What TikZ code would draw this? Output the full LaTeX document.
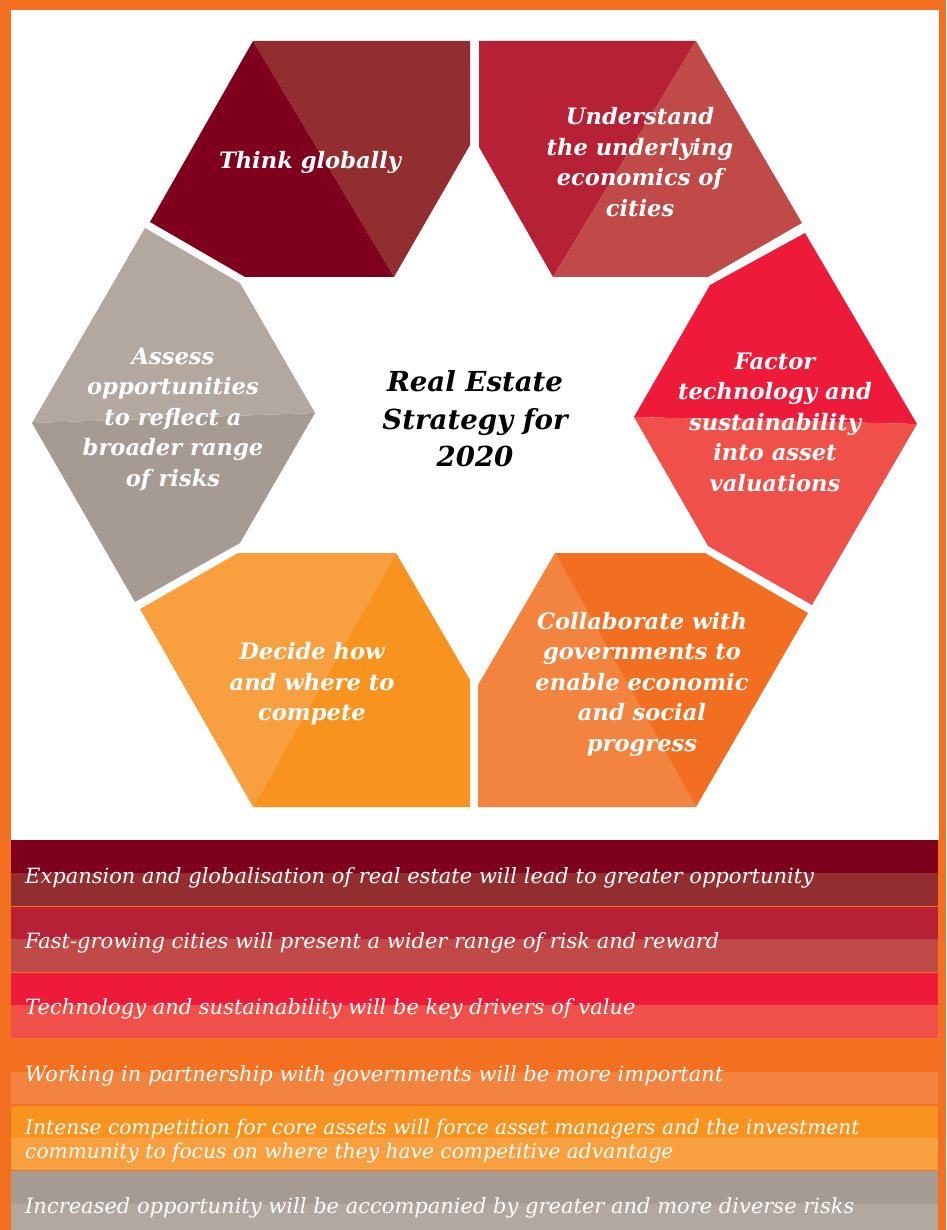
\documentclass[tikz,border=0pt]{standalone}
\usepackage{fontspec}
\setmainfont{DejaVu Serif}
\definecolor{border}{HTML}{F37021}
\definecolor{tgD}{HTML}{7F001C}
\definecolor{tgL}{HTML}{922D30}
\definecolor{unD}{HTML}{B72136}
\definecolor{unL}{HTML}{BF4A48}
\definecolor{faD}{HTML}{ED1B39}
\definecolor{faL}{HTML}{EF5049}
\definecolor{coD}{HTML}{F26F21}
\definecolor{coL}{HTML}{F3843F}
\definecolor{deD}{HTML}{F7931E}
\definecolor{deL}{HTML}{F8A03F}
\definecolor{asD}{HTML}{A69B92}
\definecolor{asL}{HTML}{B3A89F}
\tikzset{
  hexlabel/.style={text=white, align=center, inner sep=0pt,
    font=\bfseries\itshape\fontsize{22.6}{30.5}\selectfont},
  bandlabel/.style={text=white, anchor=west, align=left, inner sep=0pt,
    font=\itshape\fontsize{21}{24}\selectfont},
}
\begin{document}
\begin{tikzpicture}[x=1pt,y=-1pt]
\useasboundingbox (0,0) rectangle (946,1230);
% frame
\fill[border] (0,0) rectangle (946,1230);
\fill[white] (11,10) rectangle (939,840);
% Think globally
\fill[tgL] (253,41) -- (470,41) -- (470,145) -- (394,277) -- cycle;
\fill[tgD] (253,41) -- (394,277) -- (245,277) -- (150,222) -- cycle;
% Understand
\fill[unD] (479,41) -- (696,41) -- (553,277) -- (479,147) -- cycle;
\fill[unL] (696,41) -- (802,223) -- (708,277) -- (553,277) -- cycle;
% Factor
\fill[faD] (634,417) -- (710,285) -- (805,233) -- (917,424) -- cycle;
\fill[faL] (634,417) -- (917,424) -- (812,605) -- (708,546) -- cycle;
% Assess
\fill[asL] (32,423) -- (145,228) -- (240,283) -- (315,413) -- cycle;
\fill[asD] (32,423) -- (315,413) -- (240,543) -- (135,602) -- cycle;
% Decide
\fill[deL] (238,553) -- (396,553) -- (253,807) -- (140,609) -- cycle;
\fill[deD] (396,553) -- (470,680) -- (470,807) -- (253,807) -- cycle;
% Collaborate
\fill[coL] (555,553) -- (696,807) -- (478,807) -- (478,685) -- cycle;
\fill[coD] (555,553) -- (705,553) -- (808,613) -- (696,807) -- cycle;
% hexagon labels
\node[hexlabel] (think) at (310,162) {Think globally};
\node[hexlabel] (under) at (640,162) {Understand\\the underlying\\economics of\\cities};
\node[hexlabel] (factor) at (775,422) {Factor\\technology and\\sustainability\\into asset\\valuations};
\node[hexlabel] (assess) at (173,419) {Assess\\opportunities\\to reflect a\\broader range\\of risks};
\node[hexlabel] (decide) at (312,684) {Decide how\\and where to\\compete};
\node[hexlabel] (collab) at (642,684) {Collaborate with\\governments to\\enable economic\\and social\\progress};
\node[align=center, inner sep=0pt, font=\bfseries\itshape\fontsize{27.6}{37.5}\selectfont] (centre) at (475,419) {Real Estate\\Strategy for\\2020};
% bands
\fill[tgD] (11,840) rectangle (938,873);
\fill[tgL] (11,873) rectangle (938,906);
\fill[unD] (11,907) rectangle (938,939);
\fill[unL] (11,939) rectangle (938,972);
\fill[faD] (11,973) rectangle (938,1005);
\fill[faL] (11,1005) rectangle (938,1038);
\fill[coL] (11,1072) rectangle (938,1104);
\fill[deD] (11,1106) rectangle (938,1138);
\fill[deL] (11,1138) rectangle (938,1170);
\fill[asD] (11,1171) rectangle (938,1204);
\fill[asL] (11,1204) rectangle (938,1230);
\node[bandlabel] (b1) at (25,877.5) {Expansion and globalisation of real estate will lead to greater opportunity};
\node[bandlabel] (b2) at (25,942.5) {Fast-growing cities will present a wider range of risk and reward};
\node[bandlabel] (b3) at (25,1008.5) {Technology and sustainability will be key drivers of value};
\node[bandlabel] (b4) at (25,1075.5) {Working in partnership with governments will be more important};
\node[bandlabel, font=\itshape\fontsize{20.2}{24}\selectfont] (b5) at (25,1141) {Intense competition for core assets will force asset managers and the investment\\community to focus on where they have competitive advantage};
\node[bandlabel] (b6) at (25,1207.5) {Increased opportunity will be accompanied by greater and more diverse risks};
\end{tikzpicture}
\end{document}
